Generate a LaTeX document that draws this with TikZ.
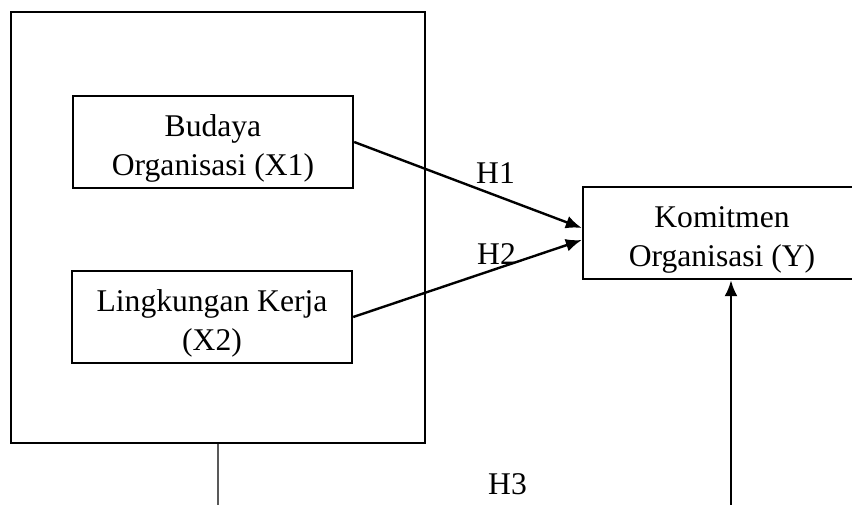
\documentclass[tikz,border=0pt]{standalone}
\usepackage{fontspec}
\setmainfont{Liberation Serif}
\usetikzlibrary{arrows.meta}
\usetikzlibrary{calc}

\tikzset{
  varbox/.style = {draw, line width = 2.4pt, inner sep = 0pt},
  boxtext/.style = {align = center, inner sep = 0pt,
    font = \fontsize{31.6}{39}\selectfont},
  hyp/.style = {line width = 2.4pt, -{Latex[length = 16pt, width = 13pt]}}
}

\begin{document}
\begin{tikzpicture}[x = 1pt, y = -1pt]
  \useasboundingbox (0, 0) rectangle (852, 504);

  \node[varbox, minimum width = 414pt, minimum height = 431pt] (grp) at (218, 227.5) {};
  \node[varbox, minimum width = 280pt, minimum height = 92pt] (x1) at (213, 142) {};
  \node[varbox, minimum width = 280pt, minimum height = 92pt] (x2) at (212, 317) {};
  \node[varbox, minimum width = 278pt, minimum height = 92pt] (y) at (722, 233) {};

  \node[boxtext] (x1t) at ($(x1.center) + (0, 6)$) {Budaya\\Organisasi (X1)};
  \node[boxtext] (x2t) at ($(x2.center) + (0, 6)$) {Lingkungan Kerja\\(X2)};
  \node[boxtext] (yt) at ($(y.center) + (0, 6.7)$) {Komitmen\\Organisasi (Y)};

  \draw[hyp] (x1.east) -- ($(y.west) + (0, -5)$);
  \draw[hyp] (x2.east) -- ($(y.west) + (0, 7)$);

  \coordinate (c1) at ($(grp.south) + (0, 80)$);
  \coordinate (c2) at ($(y.south) + (9, 245)$);
  \draw[line width = 1.2pt] (grp.south) -- (c1) -- (c2);
  \draw[hyp] (c2) -- ($(y.south) + (9, 0)$);

  \node[boxtext, anchor = base] (h1) at (495.5, 183) {H1};
  \node[boxtext, anchor = base] (h2) at (496.5, 264) {H2};
  \node[boxtext, anchor = base] (h3) at (507.5, 494) {H3};
\end{tikzpicture}
\end{document}
